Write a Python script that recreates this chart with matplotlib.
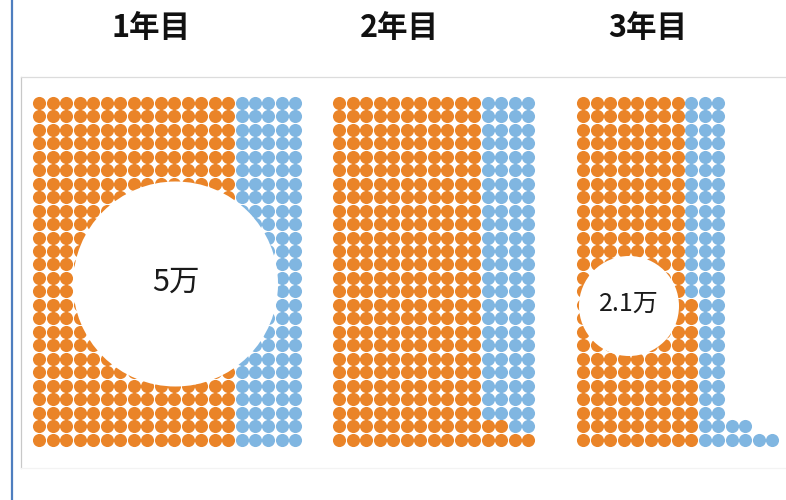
import matplotlib
matplotlib.use("Agg")
import matplotlib.pyplot as plt
from matplotlib.patches import Circle
from matplotlib.lines import Line2D

plt.rcParams['font.family'] = ['Noto Sans CJK JP', 'DejaVu Sans']

# ---- data (1 dot = one unit of people) ----
years = ["1年目", "2年目", "3年目"]
total_dots = [520, 390, 292]
retained_dots = [390, 292, 219]
circle_labels = ["5万", "", "2.1万"]

# ---- style / layout ----
ROWS = 26
SP = 13.48
ORANGE = "#EA8428"
BLUE = "#80B6E1"
panel_x0 = [39.3, 339.3, 583.3]
top_y = 102.7
total_tail_w = [4, 4, 4]
retained_tail_w = [4, 4, 1]
title_x = [151, 399, 648]
circles = [(175.5, 284, 102.5, 22), None, (629, 306, 50, 18)]


def shape(n, tail_w, rows=ROWS):
    cells = set()
    full, rem = divmod(n, rows)
    for c in range(full):
        for r in range(rows):
            cells.add((c, r))
    i = 0
    r = 0
    while i < rem:
        for k in range(tail_w):
            if i >= rem:
                break
            cells.add((full + k, r))
            i += 1
        r += 1
    return cells


fig = plt.figure(figsize=(7.86, 5.0), dpi=100)
ax = fig.add_axes([0, 0, 1, 1])
ax.set_xlim(0, 786)
ax.set_ylim(500, 0)
ax.axis("off")

# frame lines
ax.add_line(Line2D([12, 12], [0, 500], color="#4E7EBF", lw=1.6))
ax.add_line(Line2D([21, 21], [77, 468], color="#C8C8C8", lw=0.9))
ax.add_line(Line2D([21, 786], [77, 77], color="#DCDCDC", lw=0.9))
ax.add_line(Line2D([21, 786], [468, 468], color="#F3F3F3", lw=0.9))

s = (13.1 * 72 / 100) ** 2
for p in range(3):
    tot = shape(total_dots[p], total_tail_w[p])
    ret = shape(retained_dots[p], retained_tail_w[p])
    blue = tot - ret
    for cells, col in ((ret, ORANGE), (blue, BLUE)):
        xs = [panel_x0[p] + c * SP for c, r in cells]
        ys = [top_y + (ROWS - 1 - r) * SP for c, r in cells]
        ax.scatter(xs, ys, s=s, color=col, linewidths=0, zorder=2)
    ax.text(title_x[p], 28, years[p], ha="center", va="center",
            fontsize=22, fontweight="bold", color="#111111")
    if circles[p] is not None:
        cx, cy, rad, fs = circles[p]
        ax.add_patch(Circle((cx, cy), rad, facecolor="white", edgecolor="none", zorder=3))
        ax.text(cx, cy - 2, circle_labels[p], ha="center", va="center",
                fontsize=fs, color="#1a1a1a", zorder=4)

fig.savefig("out.png", dpi=100)
